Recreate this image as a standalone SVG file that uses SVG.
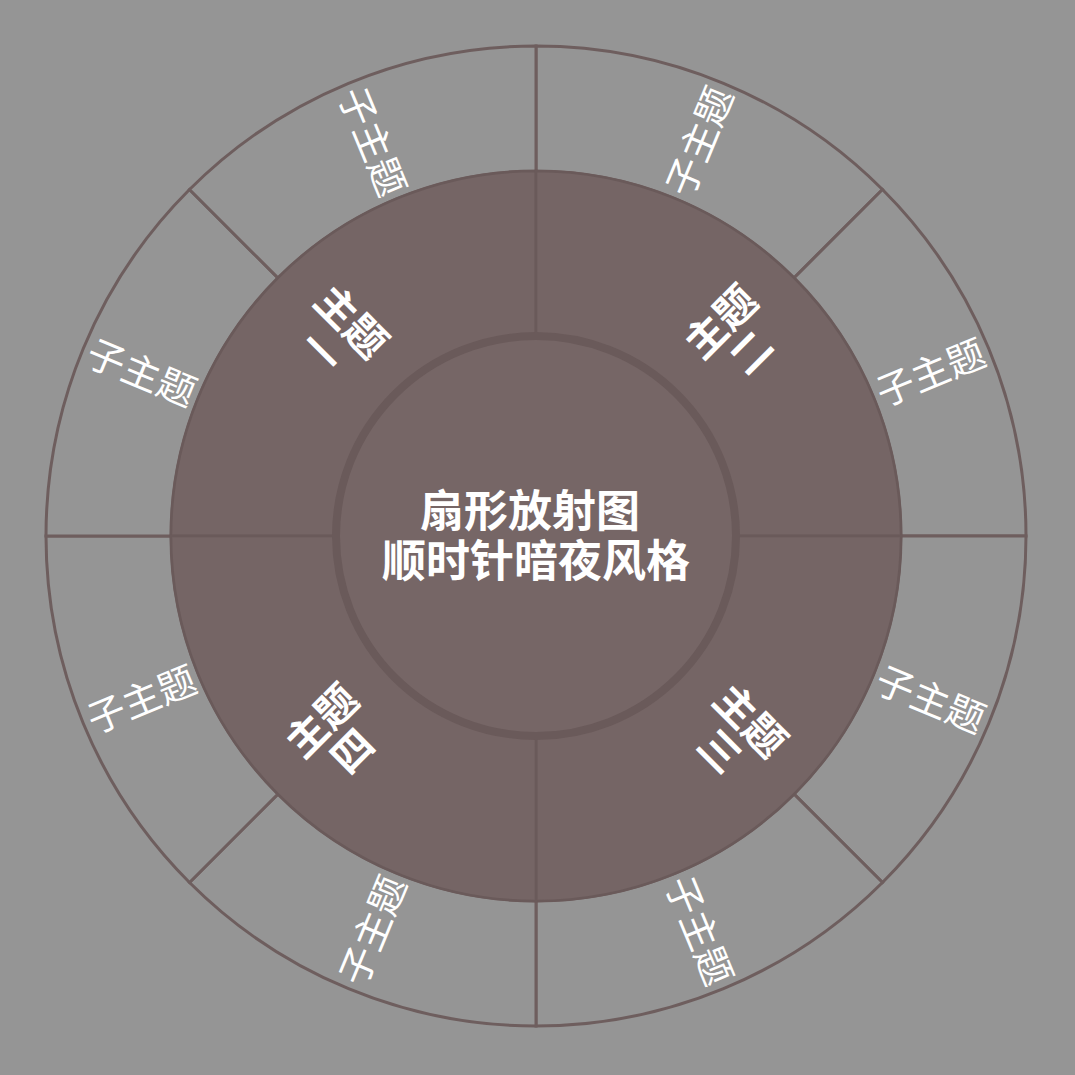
<svg xmlns="http://www.w3.org/2000/svg" width="1075" height="1075" viewBox="0 0 1075 1075">
  <style>
    .outer { fill: #959595; stroke: #6e5e5e; stroke-width: 3; }
    .inner { fill: #756565; stroke: #6a5a5a; stroke-width: 2.5; }
    .core { fill: #766666; stroke: #6a5a5a; stroke-width: 8; }
    .sub { fill: #ffffff; font-family: "Noto Sans CJK SC", "Noto Sans", sans-serif; font-size: 38px; text-anchor: middle; }
    .main { fill: #ffffff; font-family: "Noto Sans CJK SC", "Noto Sans", sans-serif; font-size: 41px; font-weight: 700; text-anchor: middle; }
    .title { fill: #ffffff; font-family: "Noto Sans CJK SC", "Noto Sans", sans-serif; font-size: 44px; font-weight: 700; text-anchor: middle; }
  </style>
  <rect width="1075" height="1075" fill="#959595"/>

  <g id="outer-ring">
    <g id="sub1">
      <path class="outer" d="M536,46 A490,490 0 0 1 882.48,189.52 L794.09,277.91 A365,365 0 0 0 536,171 Z"/>
      <text class="sub" transform="translate(699.4,141.5) rotate(-67.5)" y="14">子主题</text>
    </g>
    <g id="sub2">
      <path class="outer" d="M882.48,189.52 A490,490 0 0 1 1026,536 L901,536 A365,365 0 0 0 794.09,277.91 Z"/>
      <text class="sub" transform="translate(930.5,372.6) rotate(-22.5)" y="14">子主题</text>
    </g>
    <g id="sub3">
      <path class="outer" d="M1026,536 A490,490 0 0 1 882.48,882.48 L794.09,794.09 A365,365 0 0 0 901,536 Z"/>
      <text class="sub" transform="translate(930.5,699.4) rotate(22.5)" y="14">子主题</text>
    </g>
    <g id="sub4">
      <path class="outer" d="M882.48,882.48 A490,490 0 0 1 536,1026 L536,901 A365,365 0 0 0 794.09,794.09 Z"/>
      <text class="sub" transform="translate(699.4,930.5) rotate(67.5)" y="14">子主题</text>
    </g>
    <g id="sub5">
      <path class="outer" d="M536,1026 A490,490 0 0 1 189.52,882.48 L277.91,794.09 A365,365 0 0 0 536,901 Z"/>
      <text class="sub" transform="translate(372.6,930.5) rotate(-67.5)" y="14">子主题</text>
    </g>
    <g id="sub6">
      <path class="outer" d="M189.52,882.48 A490,490 0 0 1 46,536 L171,536 A365,365 0 0 0 277.91,794.09 Z"/>
      <text class="sub" transform="translate(141.5,699.4) rotate(-22.5)" y="14">子主题</text>
    </g>
    <g id="sub7">
      <path class="outer" d="M46,536 A490,490 0 0 1 189.52,189.52 L277.91,277.91 A365,365 0 0 0 171,536 Z"/>
      <text class="sub" transform="translate(141.5,372.6) rotate(22.5)" y="14">子主题</text>
    </g>
    <g id="sub8">
      <path class="outer" d="M189.52,189.52 A490,490 0 0 1 536,46 L536,171 A365,365 0 0 0 277.91,277.91 Z"/>
      <text class="sub" transform="translate(372.6,141.5) rotate(67.5)" y="14">子主题</text>
    </g>
  </g>

  <g id="inner-ring">
    <g id="topic1">
      <path class="inner" d="M536,536 L171,536 A365,365 0 0 1 536,171 Z"/>
      <g transform="translate(336.6,336.6) rotate(45)">
        <text class="main" y="-6">主题</text>
        <text class="main" y="37">一</text>
      </g>
    </g>
    <g id="topic2">
      <path class="inner" d="M536,536 L536,171 A365,365 0 0 1 901,536 Z"/>
      <g transform="translate(735.4,336.6) rotate(-45)">
        <text class="main" y="-6">主题</text>
        <text class="main" y="37">二</text>
      </g>
    </g>
    <g id="topic3">
      <path class="inner" d="M536,536 L901,536 A365,365 0 0 1 536,901 Z"/>
      <g transform="translate(735.4,735.4) rotate(45)">
        <text class="main" y="-6">主题</text>
        <text class="main" y="37">三</text>
      </g>
    </g>
    <g id="topic4">
      <path class="inner" d="M536,536 L536,901 A365,365 0 0 1 171,536 Z"/>
      <g transform="translate(336.6,735.4) rotate(-45)">
        <text class="main" y="-6">主题</text>
        <text class="main" y="37">四</text>
      </g>
    </g>
  </g>

  <g id="center">
    <circle class="core" cx="536" cy="536" r="200"/>
    <text class="title" x="530" y="527">扇形放射图</text>
    <text class="title" x="536" y="577">顺时针暗夜风格</text>
  </g>
</svg>
